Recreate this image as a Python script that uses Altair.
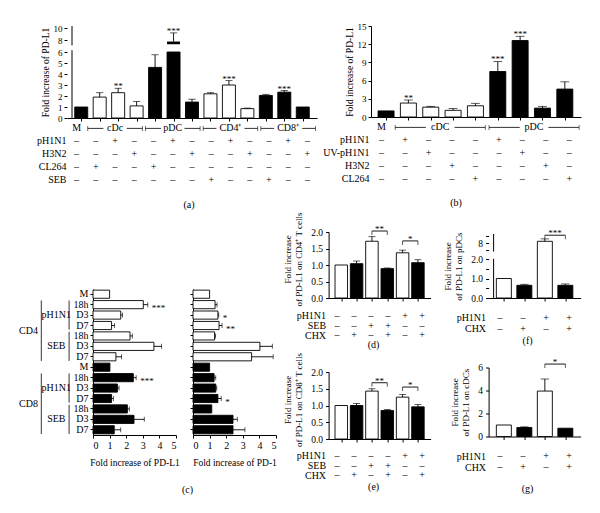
import altair as alt
import pandas as pd

FONT = "Liberation Serif, Times New Roman, Times, serif"
DASH = "\u2013"

# ---------------- panel (a) ----------------
a_values = [1.0, 1.9, 2.3, 1.1, 4.6, 6.0, 1.45, 2.2, 3.0, 0.85, 2.05, 2.35, 1.0]
a_errors = [None, 2.3, 2.7, 1.5, 5.75, 9.2, 1.7, 2.3, 3.4, 0.9, 2.15, 2.5, None]
a_fills = ["black", "white", "white", "white", "black", "black", "black",
           "white", "white", "white", "black", "black", "black"]
a_stars = ["", "", "**", "", "", "***", "", "", "***", "", "", "***", ""]
a_break_bar = [5]
a_break_low = [7.3]
a_break_high = [7.75]
a_axis_seg_low = [0, 7.1]      # y-axis drawn as two pieces (broken axis)
a_axis_seg_high = [6.3, 10.35]
a_group_names = ["M", "cDc", "pDC", "CD4\u207a", "CD8\u207a"]
a_group_first = [0, 1, 4, 7, 10]
a_group_last = [0, 3, 6, 9, 12]
a_cond_rows = ["pH1N1", "H3N2", "CL264", "SEB"]
a_cond = [
    ["-", "-", "+", "-", "-", "+", "-", "-", "+", "-", "-", "+", "-"],
    ["-", "-", "-", "+", "-", "-", "+", "-", "-", "+", "-", "-", "+"],
    ["-", "+", "-", "-", "+", "-", "-", "-", "-", "-", "-", "-", "-"],
    ["-", "-", "-", "-", "-", "-", "-", "+", "-", "-", "+", "-", "-"],
]
a_ticks = [0, 1, 2, 3, 4, 5, 6, 8, 10]

# ---------------- panel (b) ----------------
b_values = [1.0, 2.3, 1.62, 1.1, 1.85, 7.5, 12.6, 1.46, 4.6]
b_errors = [None, 2.8, 1.75, 1.4, 2.25, 9.15, 13.3, 1.75, 5.8]
b_fills = ["black", "white", "white", "white", "white", "black", "black", "black", "black"]
b_stars = ["", "**", "", "", "", "***", "***", "", ""]
b_group_names = ["M", "cDC", "pDC"]
b_group_first = [0, 1, 5]
b_group_last = [0, 4, 8]
b_cond_rows = ["pH1N1", "UV-pH1N1", "H3N2", "CL264"]
b_cond = [
    ["-", "+", "-", "-", "-", "+", "-", "-", "-"],
    ["-", "-", "+", "-", "-", "-", "+", "-", "-"],
    ["-", "-", "-", "+", "-", "-", "-", "+", "-"],
    ["-", "-", "-", "-", "+", "-", "-", "-", "+"],
]
b_ticks = [0, 3, 6, 9, 12, 15]

# ---------------- panel (c) ----------------
c_row_labels = ["M", "18h", "D3", "D7", "18h", "D3", "D7",
                "M", "18h", "D3", "D7", "18h", "D3", "D7"]
c_fills = ["white"] * 7 + ["black"] * 7
c_pdl1_values = [1.0, 3.03, 1.67, 1.12, 2.23, 3.67, 1.38, 1.02, 2.43, 1.47, 1.12, 2.07, 2.47, 1.28]
c_pdl1_errors = [None, 3.3, 1.78, 1.3, 2.37, 4.13, 1.72, None, 2.6, 1.57, 1.23, 2.19, 3.09, 1.67]
c_pdl1_stars = ["", "***", "", "", "", "", "", "", "***", "", "", "", "", ""]
c_pd1_values = [1.0, 1.33, 1.5, 1.57, 1.3, 4.03, 3.53, 1.0, 1.27, 1.37, 1.5, 1.13, 2.41, 2.41]
c_pd1_errors = [None, 1.45, 1.55, 1.75, 1.36, 4.78, 4.83, None, 1.37, 1.43, 1.7, None, 2.67, 3.13]
c_pd1_stars = ["", "", "*", "**", "", "", "", "", "", "", "*", "", "", ""]
c_group_names = ["CD4", "pH1N1", "SEB", "CD8", "pH1N1", "SEB"]
c_group_level = [0, 1, 1, 0, 1, 1]
c_group_first = [1, 1, 4, 8, 8, 11]
c_group_last = [6, 3, 6, 13, 10, 13]

# ---------------- panels (d) (e) ----------------
de_fills = ["white", "black", "white", "black", "white", "black"]
d_values = [1.0, 1.04, 1.72, 0.89, 1.37, 1.07]
d_errors = [None, 1.12, 1.86, 0.91, 1.45, 1.16]
d_br_first = [2, 4]
d_br_last = [3, 5]
d_br_height = [2.03, 1.73]
d_br_stars = ["**", "*"]
e_values = [1.0, 1.0, 1.43, 0.85, 1.25, 0.96]
e_errors = [None, 1.06, 1.5, 0.88, 1.33, 1.03]
e_br_first = [2, 4]
e_br_last = [3, 5]
e_br_height = [1.68, 1.55]
e_br_stars = ["**", "*"]
de_cond_rows = ["pH1N1", "SEB", "CHX"]
de_cond = [
    ["-", "-", "-", "-", "+", "+"],
    ["-", "-", "+", "+", "-", "-"],
    ["-", "+", "-", "+", "-", "+"],
]
de_ticks = [0, 0.5, 1.0, 1.5, 2.0]

# ---------------- panels (f) (g) ----------------
fg_fills = ["white", "black", "white", "black"]
f_values = [1.0, 0.65, 8.5, 0.65]
f_errors = [None, 0.7, 9.2, 0.72]
f_br_first = [2]
f_br_last = [3]
f_br_height = [10.25]
f_br_stars = ["***"]
f_ticks = [0, 0.5, 1.0, 1.5, 2.0, 6, 8, 10]
f_axis_seg_low = [0, 5.3]      # broken y-axis pieces
f_axis_seg_high = [2.15, 10.6]
g_values = [1.0, 0.78, 3.95, 0.72]
g_errors = [None, 0.84, 5.0, None]
g_br_first = [2]
g_br_last = [3]
g_br_height = [6.3]
g_br_stars = ["*"]
g_ticks = [0, 2, 4, 6]
fg_cond_rows = ["pH1N1", "CHX"]
fg_cond = [
    ["-", "-", "+", "+"],
    ["-", "+", "-", "+"],
]

NAN = float("nan")


def spacer(w, h):
    return (alt.Chart(pd.DataFrame({"t": [" "]}))
            .mark_text(opacity=0).encode(text="t:N")
            .properties(width=w, height=h))


def bar_panel(values, errors, fills, stars, y_scale, y_axis, bar_w, width, height,
              x_domain, brackets=None, breaks=None, axis_segments=None):
    n = len(values)
    df = pd.DataFrame({"i": list(range(n)), "v": values,
                       "e": [NAN if e is None else e for e in errors],
                       "fill": fills, "star": stars})
    df["base"] = df["v"]
    if breaks is not None:
        for bi, lo, hi in zip(*breaks):
            df.loc[bi, "base"] = hi
    df["top"] = df[["base", "e"]].max(axis=1)

    def X(f):
        return alt.X(f, scale=alt.Scale(domain=x_domain, nice=False, zero=False),
                     axis=alt.Axis(values=list(range(n)), labels=False, title=None,
                                   tickSize=3, grid=False))

    def Y(f):
        return alt.Y(f, scale=y_scale, axis=y_axis)

    layers = [
        alt.Chart(df).mark_bar(size=bar_w, stroke="black", strokeWidth=0.9)
        .encode(x=X("i:Q"), y=Y("v:Q"), fill=alt.Fill("fill:N", scale=None))
    ]
    if axis_segments is not None:
        sdf_ax = pd.DataFrame({"x": [x_domain[0]] * len(axis_segments[0]),
                               "lo": axis_segments[0], "hi": axis_segments[1]})
        layers.append(alt.Chart(sdf_ax).mark_rule(color="black", strokeWidth=1)
                      .encode(x=X("x:Q"), y=Y("lo:Q"), y2="hi:Q"))
    if breaks is not None:
        bdf = pd.DataFrame({"i": breaks[0], "lo": breaks[1], "hi": breaks[2]})
        layers.append(alt.Chart(bdf).mark_bar(size=bar_w, color="black")
                      .encode(x=X("i:Q"), y=Y("lo:Q"), y2="hi:Q"))
    edf = df.dropna(subset=["e"])
    layers.append(alt.Chart(edf).mark_rule(color="black", strokeWidth=0.9)
                  .encode(x=X("i:Q"), y=Y("base:Q"), y2="e:Q"))
    layers.append(alt.Chart(edf).mark_tick(orient="horizontal", size=bar_w * 0.55,
                                           thickness=0.9, color="black")
                  .encode(x=X("i:Q"), y=Y("e:Q")))
    sdf = df[df["star"] != ""]
    if len(sdf):
        layers.append(alt.Chart(sdf).mark_text(baseline="bottom", dy=3, fontSize=9)
                      .encode(x=X("i:Q"), y=Y("top:Q"), text="star:N"))
    if brackets is not None:
        first, last, hts, sts = brackets
        kdf = pd.DataFrame({"i0": first, "i1": last, "h": hts, "star": sts})
        kdf["mid"] = (kdf["i0"] + kdf["i1"]) / 2
        ends = pd.DataFrame({"i": list(first) + list(last), "h": list(hts) * 2})
        layers.append(alt.Chart(kdf).mark_rule(color="black", strokeWidth=0.9)
                      .encode(x=X("i0:Q"), x2="i1:Q", y=Y("h:Q")))
        layers.append(alt.Chart(ends).mark_tick(orient="vertical", size=4, thickness=0.9,
                                                yOffset=2, color="black")
                      .encode(x=X("i:Q"), y=Y("h:Q")))
        layers.append(alt.Chart(kdf).mark_text(baseline="bottom", dy=3, fontSize=9)
                      .encode(x=X("mid:Q"), y=Y("h:Q"), text="star:N"))
    return alt.layer(*layers).properties(width=width, height=height)


def table_panel(n, rows, conds, width, height, x_domain, label_pad=4,
                groups=None, title=None, title_dx=0, title_offset=4):
    recs = []
    for r, syms in zip(rows, conds):
        for i, s in enumerate(syms):
            recs.append({"i": i, "row": r, "sym": "+" if s == "+" else DASH})
    df = pd.DataFrame(recs)
    rows_all = (["grp"] if groups else []) + rows

    def X(f):
        return alt.X(f, scale=alt.Scale(domain=x_domain, nice=False, zero=False), axis=None)

    ys = alt.Y("row:N", sort=rows_all, scale=alt.Scale(domain=rows_all),
               axis=alt.Axis(title=None, ticks=False, domain=False, labelFontSize=10,
                             labelPadding=label_pad,
                             labelExpr="datum.label == 'grp' ? '' : datum.label"))
    layers = [alt.Chart(df).mark_text(fontSize=10).encode(x=X("i:Q"), y=ys, text="sym:N")]
    if groups:
        names, first, last = groups
        gdf = pd.DataFrame({"name": names, "first": first, "last": last})
        gdf["row"] = "grp"
        gdf["mid"] = (gdf["first"] + gdf["last"]) / 2
        gdf["gap"] = 0.12 * gdf["name"].str.len() + 0.25
        gdf["l0"] = gdf["first"] - 0.42
        gdf["l1"] = gdf["mid"] - gdf["gap"]
        gdf["r0"] = gdf["mid"] + gdf["gap"]
        gdf["r1"] = gdf["last"] + 0.42
        spans = gdf[gdf["last"] > gdf["first"]]
        ends = pd.DataFrame({"i": list(spans["l0"]) + list(spans["r1"]), "row": "grp"})
        layers.append(alt.Chart(gdf).mark_text(fontSize=10)
                      .encode(x=X("mid:Q"), y=ys, text="name:N"))
        layers.append(alt.Chart(spans).mark_rule(color="black", strokeWidth=0.8)
                      .encode(x=X("l0:Q"), x2="l1:Q", y=ys))
        layers.append(alt.Chart(spans).mark_rule(color="black", strokeWidth=0.8)
                      .encode(x=X("r0:Q"), x2="r1:Q", y=ys))
        layers.append(alt.Chart(ends).mark_tick(orient="vertical", size=5, thickness=0.8,
                                                color="black")
                      .encode(x=X("i:Q"), y=ys))
    ch = alt.layer(*layers).properties(width=width, height=height)
    if title:
        ch = ch.properties(title=alt.TitleParams(title, orient="bottom", anchor="middle",
                                                 frame="group", offset=title_offset,
                                                 dx=title_dx, fontSize=10))
    return ch


C_TOP = 78      # empty band above panel (c) inside its own view
C_PLOT = 146    # height of the bar area of panel (c)


def c_panel(values, errors, stars, show_labels, xtitle, width, title=None):
    ids = [chr(97 + k) + ":" + lab for k, lab in enumerate(c_row_labels)]
    df = pd.DataFrame({"row": ids, "v": values,
                       "e": [NAN if e is None else e for e in errors],
                       "star": stars, "fill": c_fills})
    df["sx"] = df[["v", "e"]].max(axis=1)
    ys = alt.Y("row:N", sort=ids,
               scale=alt.Scale(domain=ids, paddingInner=0.22, paddingOuter=0.11,
                               range=[C_TOP, C_TOP + C_PLOT]),
               axis=alt.Axis(title=None, labels=show_labels, ticks=True, tickSize=3,
                             labelPadding=2, labelFontSize=10,
                             labelExpr="split(datum.label, ':')[1]"))

    def X(f):
        return alt.X(f, scale=alt.Scale(domain=[0, 5], nice=False, zero=False),
                     axis=alt.Axis(values=[0, 1, 2, 3, 4, 5], format="d", title=xtitle,
                                   tickSize=3, labelPadding=2, titlePadding=7,
                                   labelFontSize=10))

    edf = df.dropna(subset=["e"])
    sdf = df[df["star"] != ""]
    layers = [
        alt.Chart(df).mark_bar(stroke="black", strokeWidth=0.9)
        .encode(x=X("v:Q"), y=ys, fill=alt.Fill("fill:N", scale=None)),
        alt.Chart(edf).mark_rule(color="black", strokeWidth=0.9)
        .encode(x=X("v:Q"), x2="e:Q", y=ys),
        alt.Chart(edf).mark_tick(orient="vertical", size=5, thickness=0.9, color="black")
        .encode(x=X("e:Q"), y=ys),
        alt.Chart(sdf).mark_text(align="left", baseline="middle", dx=4, dy=3, fontSize=9)
        .encode(x=X("sx:Q"), y=ys, text="star:N"),
    ]
    ch = alt.layer(*layers).properties(width=width, height=C_TOP + C_PLOT)
    if title:
        ch = ch.properties(title=alt.TitleParams(title, orient="bottom", anchor="middle",
                                                 frame="group", offset=18, dx=53,
                                                 fontSize=10))
    return ch


def c_groups_panel(width):
    gdf = pd.DataFrame({"name": c_group_names, "level": c_group_level,
                        "first": c_group_first, "last": c_group_last})
    gdf["ymid"] = (gdf["first"] + gdf["last"] + 1) / 2
    gdf["y1"] = gdf["first"] + 0.1
    gdf["y2"] = gdf["last"] + 0.9
    gdf["xl"] = gdf["level"] + 0.46
    xs = alt.Scale(domain=[-0.378, 1.708], nice=False, zero=False)
    ysc = alt.Scale(domain=[0, 14], range=[C_TOP, C_TOP + C_PLOT], nice=False, zero=False)
    txt = alt.Chart(gdf).mark_text(fontSize=10).encode(
        x=alt.X("level:Q", scale=xs, axis=None),
        y=alt.Y("ymid:Q", scale=ysc, axis=None), text="name:N")
    lines = alt.Chart(gdf).mark_rule(color="black", strokeWidth=0.8).encode(
        x=alt.X("xl:Q", scale=xs, axis=None),
        y=alt.Y("y1:Q", scale=ysc, axis=None), y2="y2:Q")
    return alt.layer(txt, lines).properties(width=width, height=C_TOP + C_PLOT)


def panel_axis(title, ticks, title_y=None, fmt=None, expr=None, domain=True):
    kw = dict(values=ticks, title=title, tickSize=3, labelPadding=3, titlePadding=7,
              labelFontSize=9.5, titleFontSize=9, domain=domain)
    if title_y is not None:
        kw["titleY"] = title_y
    if fmt is not None:
        kw["format"] = fmt
    if expr is not None:
        kw["labelExpr"] = expr
    return alt.Axis(**kw)


# ---------- build (a) ----------
a_scale = alt.Scale(domain=[0, 6, 10.35], range=[92, 26, 0], nice=False, zero=False)
a_axis = alt.Axis(values=a_ticks, format="d", title="Fold increase of PD-L1", tickSize=3,
                  labelPadding=2, titlePadding=3, domain=False)
a_bar = bar_panel(a_values, a_errors, a_fills, a_stars, a_scale, a_axis, 13, 250, 92,
                  [-0.5, 12.5], breaks=(a_break_bar, a_break_low, a_break_high),
                  axis_segments=(a_axis_seg_low, a_axis_seg_high))
a_tab = table_panel(13, a_cond_rows, a_cond, 250, 64, [-0.5, 12.5], label_pad=1,
                    groups=(a_group_names, a_group_first, a_group_last),
                    title="(a)", title_dx=-3, title_offset=13.5)
a_blk = alt.vconcat(a_bar, a_tab, spacing=4, bounds="flush")

# ---------- build (b) ----------
b_scale = alt.Scale(domain=[0, 15], nice=False, zero=False)
b_axis = alt.Axis(values=b_ticks, format="d", title="Fold increase of PD-L1", tickSize=3,
                  labelPadding=2, titlePadding=3)
b_bar = bar_panel(b_values, b_errors, b_fills, b_stars, b_scale, b_axis, 16, 210, 91,
                  [-0.45, 8.5])
b_tab = table_panel(9, b_cond_rows, b_cond, 210, 64, [-0.45, 8.5], label_pad=2,
                    groups=(b_group_names, b_group_first, b_group_last),
                    title="(b)", title_dx=-20, title_offset=12.5)
b_blk = alt.vconcat(b_bar, b_tab, spacing=4, bounds="flush")

# ---------- build (c) ----------
c_grp = c_groups_panel(58)
c_left = c_panel(c_pdl1_values, c_pdl1_errors, c_pdl1_stars, True,
                 "Fold increase of PD-L1", 83, title="(c)")
c_right = c_panel(c_pd1_values, c_pd1_errors, c_pd1_stars, False,
                  "Fold increase of PD-1", 83)
c_blk = alt.hconcat(c_grp, c_left, c_right, spacing=17, bounds="flush")

# ---------- build (d)(e) ----------
D_TOP = 21
d_scale = alt.Scale(domain=[0, 2], range=[66 + D_TOP, D_TOP], nice=False, zero=False)
e_scale = alt.Scale(domain=[0, 2], range=[67 + D_TOP, D_TOP], nice=False, zero=False)
d_bar = bar_panel(d_values, d_errors, de_fills, [""] * 6, d_scale,
                  panel_axis(["Fold increase", "of PD-L1 on CD4\u207a T cells"], de_ticks,
                             title_y=D_TOP + 27, fmt=".1f"),
                  12.5, 102, 66 + D_TOP, [-0.5, 5.5],
                  brackets=(d_br_first, d_br_last, d_br_height, d_br_stars))
d_tab = table_panel(6, de_cond_rows, de_cond, 102, 29, [-0.5, 5.5], label_pad=3,
                    title="(d)", title_dx=-6, title_offset=0)
e_bar = bar_panel(e_values, e_errors, de_fills, [""] * 6, e_scale,
                  panel_axis(["Fold increase", "of PD-L1 on CD8\u207a T cells"], de_ticks,
                             title_y=D_TOP + 27.5, fmt=".1f"),
                  12.5, 102, 67 + D_TOP, [-0.5, 5.5],
                  brackets=(e_br_first, e_br_last, e_br_height, e_br_stars))
e_tab = table_panel(6, de_cond_rows, de_cond, 102, 29, [-0.5, 5.5], label_pad=3,
                    title="(e)", title_dx=-6, title_offset=2)
d_blk = alt.vconcat(d_bar, d_tab, spacing=13, bounds="flush")
e_blk = alt.vconcat(e_bar, e_tab, spacing=12, bounds="flush")
de_blk = alt.vconcat(d_blk, e_blk, spacing=0)

# ---------- build (f)(g) ----------
F_TOP = 23
f_scale = alt.Scale(domain=[0, 2, 6, 10.6], range=[64 + F_TOP, 25 + F_TOP, 16 + F_TOP, F_TOP],
                    nice=False, zero=False)
f_bar = bar_panel(f_values, f_errors, fg_fills, [""] * 4, f_scale,
                  panel_axis(["Fold increase", "of PD-L1 on pDCs"], f_ticks, title_y=F_TOP + 32,
                             expr="datum.value >= 6 ? format(datum.value, 'd') : format(datum.value, '.1f')",
                             domain=False),
                  15, 92, 64 + F_TOP, [-0.5, 3.5],
                  brackets=(f_br_first, f_br_last, f_br_height, f_br_stars),
                  axis_segments=(f_axis_seg_low, f_axis_seg_high))
f_tab = table_panel(4, fg_cond_rows, fg_cond, 92, 22, [-0.5, 3.5], label_pad=3,
                    title="(f)", title_dx=-7, title_offset=2)
g_scale = alt.Scale(domain=[0, 6], nice=False, zero=False)
g_bar = bar_panel(g_values, g_errors, fg_fills, [""] * 4, g_scale,
                  panel_axis(["Fold increase", "of PD-L1 on cDCs"], g_ticks, fmt="d"),
                  15, 92, 69, [-0.5, 3.5],
                  brackets=(g_br_first, g_br_last, g_br_height, g_br_stars))
g_tab = table_panel(4, fg_cond_rows, fg_cond, 92, 22, [-0.5, 3.5], label_pad=3,
                    title="(g)", title_dx=-7, title_offset=11)
f_blk = alt.vconcat(f_bar, f_tab, spacing=14, bounds="flush")
g_blk = alt.vconcat(g_bar, g_tab, spacing=14, bounds="flush")
fg_blk = alt.vconcat(f_blk, g_blk, spacing=11.5)

row1 = alt.hconcat(spacer(17.6, 10), alt.hconcat(a_blk, b_blk, spacing=5), spacing=0)
row2 = alt.hconcat(c_blk, alt.hconcat(de_blk, fg_blk, spacing=13), spacing=6.6)

chart = (
    alt.vconcat(row1, row2, spacing=1)
    .properties(padding={"left": 10, "top": 14, "right": 2, "bottom": 2})
    .configure(font=FONT)
    .configure_view(stroke=None)
    .configure_axis(labelFont=FONT, titleFont=FONT, labelFontSize=9, titleFontSize=9.5,
                    titleFontWeight="normal", labelColor="black", titleColor="black",
                    domainColor="black", tickColor="black", grid=False)
    .configure_text(font=FONT, color="black")
    .configure_title(font=FONT, fontSize=10, fontWeight="normal", color="black")
)

chart.save("out.html", embed_options={"renderer": "svg", "actions": False})
